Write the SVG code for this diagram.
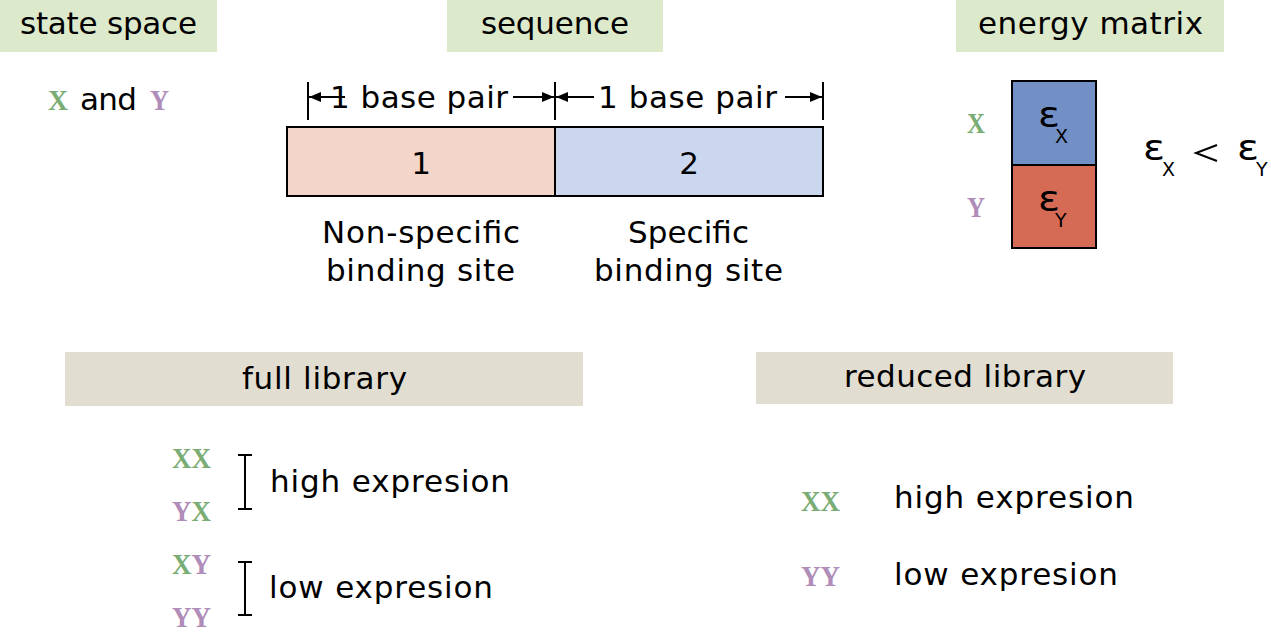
<svg xmlns="http://www.w3.org/2000/svg" width="1271" height="641" viewBox="0 0 1271 641">
<defs>
<style>
.t{font-family:"DejaVu Sans","Liberation Sans",sans-serif;font-size:31px;fill:#000}
.m{font-family:"Liberation Serif","DejaVu Serif",serif;font-weight:bold;font-size:29px}
.gx{fill:#7aad74}
.py{fill:#b08cb8}
.hd{fill:#dde9cb}
.lb{fill:#e2ddd1}
.ln{stroke:#000;stroke-width:2;fill:none}
.e{font-family:"DejaVu Sans","Liberation Sans",sans-serif;fill:#000;font-size:36px}
.s{font-family:"DejaVu Sans","Liberation Sans",sans-serif;fill:#000;font-size:19px}
</style>
<marker id="ah" viewBox="0 0 12 10" refX="12" refY="5" markerWidth="12" markerHeight="10" markerUnits="userSpaceOnUse" orient="auto">
<path d="M0,0 L12,5 L0,10 Z" fill="#000"/>
</marker>
</defs>
<rect width="1271" height="641" fill="#fff"/>

<g id="state-space">
<rect class="hd" x="0" y="0" width="217" height="52"/>
<text class="t" x="20" y="34" textLength="177" lengthAdjust="spacing">state space</text>
<text class="m gx" x="48" y="110" textLength="20" lengthAdjust="spacingAndGlyphs">X</text>
<text class="t" x="80" y="110" textLength="57" lengthAdjust="spacing">and</text>
<text class="m py" x="150" y="110" textLength="19" lengthAdjust="spacingAndGlyphs">Y</text>
</g>

<g id="sequence">
<rect class="hd" x="447" y="0" width="216" height="52"/>
<text class="t" x="481" y="34" textLength="148" lengthAdjust="spacing">sequence</text>
<rect x="287" y="127" width="268" height="69" fill="#f4d5c9" stroke="#000" stroke-width="2"/>
<rect x="555" y="127" width="268" height="69" fill="#cad7ee" stroke="#000" stroke-width="2"/>
<text class="t" x="421" y="174" text-anchor="middle">1</text>
<text class="t" x="689" y="174" text-anchor="middle">2</text>
<text class="t" x="330" y="108" textLength="178" lengthAdjust="spacing">1 base pair</text>
<text class="t" x="598" y="108" textLength="179" lengthAdjust="spacing">1 base pair</text>
<text class="t" x="322" y="243" textLength="198" lengthAdjust="spacing">Non-specific</text>
<text class="t" x="326" y="281" textLength="189" lengthAdjust="spacing">binding site</text>
<text class="t" x="628" y="243" textLength="121" lengthAdjust="spacing">Specific</text>
<text class="t" x="594" y="281" textLength="189" lengthAdjust="spacing">binding site</text>
</g>

<g id="energy-matrix">
<rect class="hd" x="956" y="0" width="268" height="52"/>
<text class="t" x="978" y="34" textLength="225" lengthAdjust="spacing">energy matrix</text>
<rect x="1012" y="81" width="84" height="84" fill="#7390c6" stroke="#000" stroke-width="2"/>
<rect x="1012" y="165" width="84" height="83" fill="#d66b55" stroke="#000" stroke-width="2"/>
<text class="m gx" x="967" y="133" font-size="26" textLength="18" lengthAdjust="spacingAndGlyphs">X</text>
<text class="m py" x="967" y="217" font-size="26" textLength="18" lengthAdjust="spacingAndGlyphs">Y</text>
<text class="e" x="1038" y="127" textLength="22" lengthAdjust="spacingAndGlyphs">ε</text>
<text class="s" x="1055" y="143">X</text>
<text class="e" x="1038" y="211" textLength="22" lengthAdjust="spacingAndGlyphs">ε</text>
<text class="s" x="1055" y="227">Y</text>
<text class="e" x="1143" y="160" textLength="22" lengthAdjust="spacingAndGlyphs">ε</text>
<text class="s" x="1162" y="176">X</text>
<path d="M1217,145 L1196,153 L1217,161" stroke="#000" stroke-width="2" fill="none"/>
<text class="e" x="1237" y="160" textLength="22" lengthAdjust="spacingAndGlyphs">ε</text>
<text class="s" x="1256" y="176">Y</text>
</g>

<g id="full-library">
<rect class="lb" x="65" y="352" width="518" height="54"/>
<text class="t" x="242" y="389" textLength="165" lengthAdjust="spacing">full library</text>
<text class="m" x="172" y="468" textLength="39" lengthAdjust="spacingAndGlyphs"><tspan class="gx">XX</tspan></text>
<text class="m" x="172" y="521" textLength="39" lengthAdjust="spacingAndGlyphs"><tspan class="py">Y</tspan><tspan class="gx">X</tspan></text>
<text class="m" x="172" y="574" textLength="39" lengthAdjust="spacingAndGlyphs"><tspan class="gx">X</tspan><tspan class="py">Y</tspan></text>
<text class="m" x="172" y="627" textLength="39" lengthAdjust="spacingAndGlyphs"><tspan class="py">YY</tspan></text>
<text class="t" x="270" y="492" textLength="240" lengthAdjust="spacing">high expresion</text>
<text class="t" x="269" y="598" textLength="224" lengthAdjust="spacing">low expresion</text>
</g>

<g id="reduced-library">
<rect class="lb" x="756" y="352" width="417" height="52"/>
<text class="t" x="844" y="387" textLength="242" lengthAdjust="spacing">reduced library</text>
<text class="m gx" x="801" y="511" textLength="39" lengthAdjust="spacingAndGlyphs">XX</text>
<text class="m py" x="801" y="586" textLength="39" lengthAdjust="spacingAndGlyphs">YY</text>
<text class="t" x="894" y="508" textLength="240" lengthAdjust="spacing">high expresion</text>
<text class="t" x="894" y="585" textLength="224" lengthAdjust="spacing">low expresion</text>
</g>

<g id="connectors">
<line class="ln" x1="308" y1="82" x2="308" y2="120"/>
<line class="ln" x1="555" y1="82" x2="555" y2="120"/>
<line class="ln" x1="823" y1="82" x2="823" y2="120"/>
<line class="ln" x1="345" y1="97" x2="309" y2="97" marker-end="url(#ah)"/>
<line class="ln" x1="513" y1="97" x2="554" y2="97" marker-end="url(#ah)"/>
<line class="ln" x1="594" y1="97" x2="556" y2="97" marker-end="url(#ah)"/>
<line class="ln" x1="785" y1="97" x2="822" y2="97" marker-end="url(#ah)"/>
<path class="ln" d="M238,455 H252 M245,455 V509 M238,509 H252"/>
<path class="ln" d="M238,562 H252 M245,562 V615 M238,615 H252"/>
</g>
</svg>
